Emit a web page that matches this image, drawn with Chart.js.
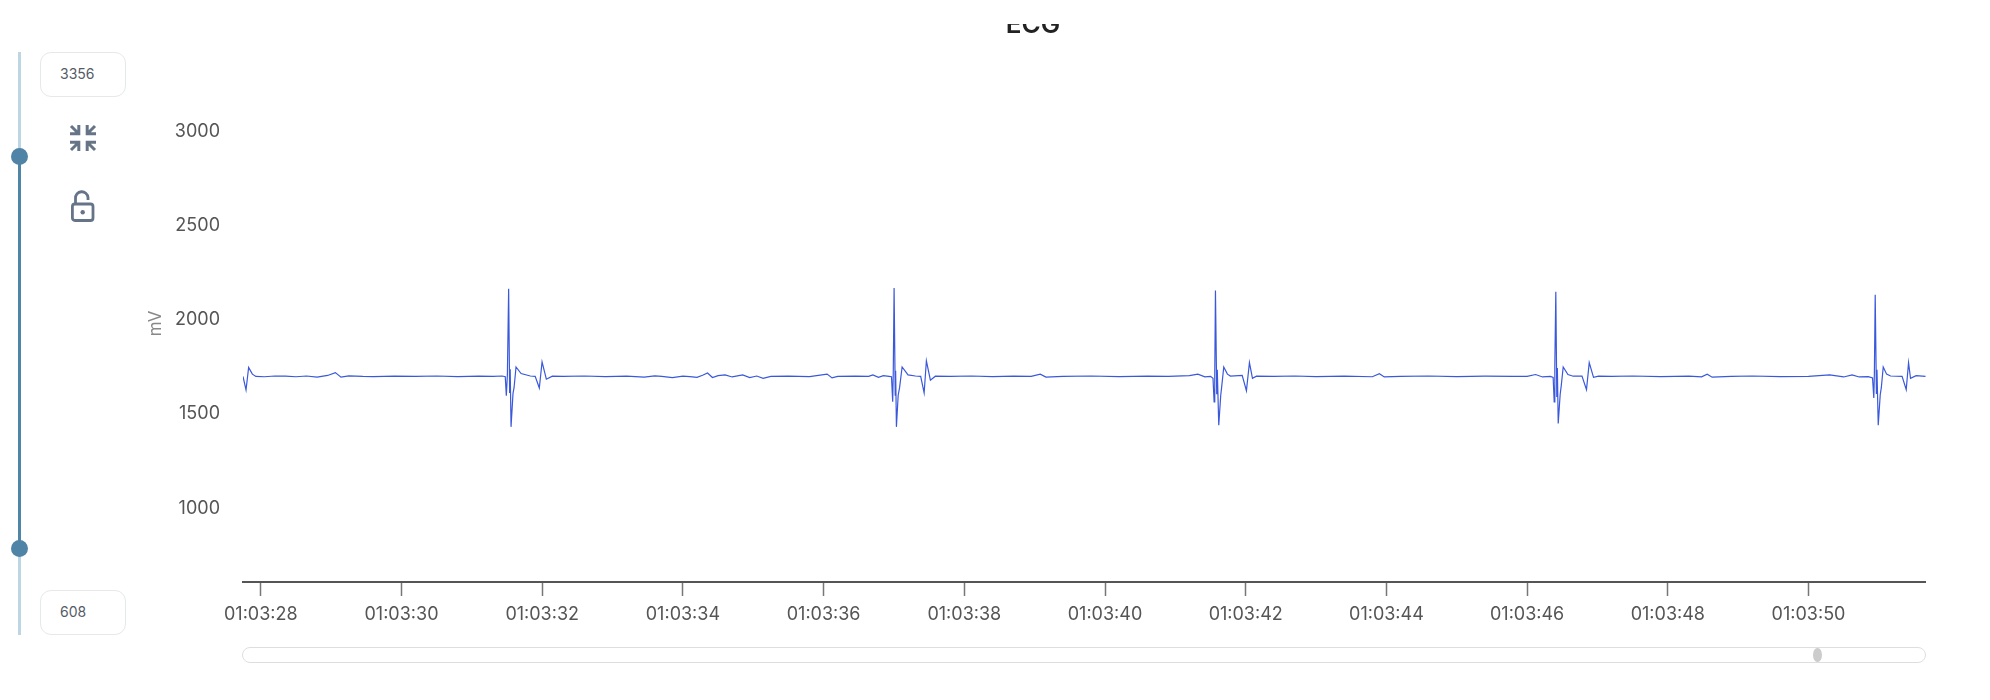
<!DOCTYPE html>
<html>
<head>
<meta charset="utf-8">
<title>ECG</title>
<script src="https://cdn.jsdelivr.net/npm/chart.js@4"></script>
<style>
html,body{margin:0;padding:0;background:#fff;width:1990px;height:700px;overflow:hidden;font-family:Inter,sans-serif}
body{filter:blur(0.5px)}
#wrap{position:absolute;left:140px;top:24px;width:1786px;height:676px}
.rail{position:absolute;left:17.5px;top:52px;width:3px;height:583px;background:#bcd6e3}
.active{position:absolute;left:17.5px;top:157px;width:3.5px;height:392px;background:#4f86a8}
.knob{position:absolute;left:10.5px;width:17px;height:17px;border-radius:50%;background:#4f84a6}
.box{position:absolute;left:40px;width:85.5px;height:45px;border:1.2px solid #e6e8ea;border-radius:11px;box-sizing:border-box;background:#fff;color:#555b66;font-size:14px;line-height:42px;padding-left:19px}
svg.icon{position:absolute;overflow:visible}
.scroll{position:absolute;left:242px;top:647px;width:1684px;height:16px;box-sizing:border-box;border:1.5px solid #dedede;border-radius:8px;background:#fff}
.thumb{position:absolute;left:1813px;top:648px;width:8.5px;height:14px;border-radius:50%;background:#cccccc}
</style>
</head>
<body>
<div class="rail"></div>
<div class="active"></div>
<div class="knob" style="top:148px"></div>
<div class="knob" style="top:540px"></div>
<div class="box" id="boxMax" style="top:52px"></div>
<div class="box" id="boxMin" style="top:590px"></div>
<svg class="icon" style="left:69px;top:124px" width="28" height="28" viewBox="0 0 28 28" fill="none" stroke="#667488" stroke-width="3">
  <path d="M2 2 L9 9 M1 9.8 H9.8 V1"/>
  <path d="M26 2 L19 9 M27 9.8 H18.2 V1"/>
  <path d="M2 26 L9 19 M1 18.2 H9.8 V27"/>
  <path d="M26 26 L19 19 M27 18.2 H18.2 V27"/>
</svg>
<svg class="icon" style="left:70px;top:191px" width="26" height="32" viewBox="0 0 26 32" fill="none" stroke="#667488" stroke-width="2.8">
  <rect x="2.4" y="13" width="20.6" height="16.5" rx="2.5"/>
  <path d="M5.5 13 V7.5 A6.2 6.2 0 0 1 18 6.5 V9"/>
  <circle cx="12.7" cy="21.3" r="2.2" fill="#667488" stroke="none"/>
</svg>
<div id="wrap"><canvas id="c" width="1786" height="676"></canvas></div>
<div class="scroll"></div>
<div class="thumb"></div>
<script>
const chartTitle = "ECG";
const yAxisLabel = "mV";
const rangeMax = 3356;
const rangeMin = 608;
const timeStart = 27.747;
const timeEnd = 51.67;
const yTickValues = [1000, 1500, 2000, 2500, 3000];
const xTickValues = [28, 30, 32, 34, 36, 38, 40, 42, 44, 46, 48, 50];
const xTickLabels = ["01:03:28","01:03:30","01:03:32","01:03:34","01:03:36","01:03:38","01:03:40","01:03:42","01:03:44","01:03:46","01:03:48","01:03:50"];

const ecgSeconds = [
  27.747,27.79,27.827,27.88,27.93,28.05,28.2,28.35,28.5,28.65,28.8,28.95,29.06,29.14,29.25,29.45,29.6,29.9,30.2,30.5,30.8,31.1,31.3,31.43,
  31.475,31.49,31.505,31.523,31.537,31.545,31.557,31.585,31.6,31.628,31.7,31.831,31.9,31.959,31.998,32.059,32.144,
  32.3,32.6,32.9,33.2,33.45,33.6,33.7,33.85,34.0,34.1,34.2,34.28,34.35,34.42,34.5,34.6,34.7,34.85,34.95,35.05,35.14,35.25,35.5,35.8,36.05,36.12,36.2,36.45,36.64,36.7,36.78,36.85,36.93,
  36.965,36.982,36.99,37.002,37.018,37.024,37.035,37.06,37.08,37.116,37.2,37.305,37.38,37.429,37.461,37.518,37.589,
  37.8,38.1,38.4,38.7,38.95,39.08,39.16,39.4,39.8,40.2,40.6,40.9,41.2,41.32,41.42,41.5,
  41.535,41.551,41.56,41.57,41.588,41.596,41.617,41.645,41.66,41.688,41.74,41.783,41.95,42.01,42.053,42.096,42.153,
  42.4,42.7,43.0,43.4,43.8,43.9,43.97,44.2,44.6,45.0,45.4,45.8,46.0,46.12,46.22,46.33,
  46.37,46.385,46.394,46.408,46.422,46.43,46.442,46.47,46.485,46.513,46.58,46.655,46.78,46.844,46.883,46.944,47.015,
  47.2,47.5,47.9,48.3,48.48,48.56,48.63,48.9,49.2,49.6,50.0,50.3,50.5,50.62,50.72,50.85,
  50.91,50.928,50.936,50.948,50.965,50.973,50.991,51.02,51.035,51.062,51.11,51.166,51.33,51.389,51.422,51.45,51.53,51.663
];
const ecgValues = [
  1700,1628,1748,1712,1700,1698,1702,1701,1698,1702,1696,1705,1720,1696,1703,1700,1699,1701,1700,1702,1699,1701,1700,1702,
  1698,1598,1708,2165,1612,1738,1432,1610,1640,1750,1715,1702,1700,1638,1777,1685,1701,
  1700,1702,1699,1701,1696,1703,1700,1693,1701,1699,1695,1706,1718,1694,1704,1708,1697,1708,1694,1702,1690,1700,1701,1699,1712,1692,1700,1701,1700,1708,1695,1704,1700,
  1698,1565,1715,2170,1600,1730,1432,1600,1640,1750,1708,1702,1700,1612,1783,1680,1701,
  1700,1702,1699,1701,1700,1712,1696,1700,1702,1699,1701,1700,1704,1712,1698,1700,
  1690,1565,1710,2156,1605,1735,1441,1600,1650,1750,1712,1702,1705,1624,1773,1690,1701,
  1700,1702,1699,1701,1698,1714,1697,1700,1702,1699,1701,1700,1700,1710,1697,1700,
  1695,1565,1760,2150,1590,1745,1450,1605,1650,1750,1710,1701,1702,1630,1773,1695,1701,
  1700,1702,1699,1701,1698,1712,1696,1700,1702,1699,1700,1708,1697,1708,1697,1699,
  1692,1585,1712,2133,1610,1735,1441,1605,1640,1750,1712,1702,1700,1630,1773,1690,1704,1700
];

document.getElementById("boxMax").textContent = rangeMax;
document.getElementById("boxMin").textContent = rangeMin;

const points = ecgSeconds.map((x, i) => ({ x, y: ecgValues[i] }));
const labelColor = "#555555";
const tickFont = { family: "Inter", size: 18, weight: "400" };

new Chart(document.getElementById("c"), {
  type: "line",
  data: { datasets: [{ label: chartTitle, data: points, borderColor: "#3a58dc", borderWidth: 1.2, pointRadius: 0, tension: 0, fill: false }] },
  options: {
    responsive: false,
    animation: false,
    events: [],
    layout: { padding: 0 },
    plugins: {
      legend: { display: false },
      tooltip: { enabled: false },
      title: {
        display: true,
        text: chartTitle,
        color: "#222222",
        font: { family: "Inter", size: 26, weight: "600" },
        padding: { top: -14, bottom: 23.4 }
      }
    },
    scales: {
      x: {
        type: "linear",
        min: timeStart,
        max: timeEnd,
        afterBuildTicks: s => { s.ticks = xTickValues.map(value => ({ value })); },
        afterFit: s => { s.height = 118; },
        border: { display: true, color: "#555555", width: 2 },
        grid: { drawOnChartArea: false, drawTicks: true, tickLength: 14, tickColor: "#777777", tickWidth: 1.5 },
        ticks: {
          autoSkip: false, maxRotation: 0, padding: 8, color: labelColor, font: tickFont,
          callback: v => xTickLabels[xTickValues.indexOf(v)]
        }
      },
      y: {
        type: "linear",
        min: rangeMin,
        max: rangeMax,
        afterBuildTicks: s => { s.ticks = yTickValues.map(value => ({ value })); },
        afterFit: s => { s.width = 103; },
        border: { display: false },
        grid: { display: false, drawTicks: false },
        title: { display: true, text: yAxisLabel, color: "#888888", font: { family: "Inter", size: 17 }, padding: { top: 6, bottom: 0 } },
        ticks: { padding: 23, color: labelColor, font: tickFont, callback: v => String(v) }
      }
    }
  }
});
</script>
</body>
</html>
